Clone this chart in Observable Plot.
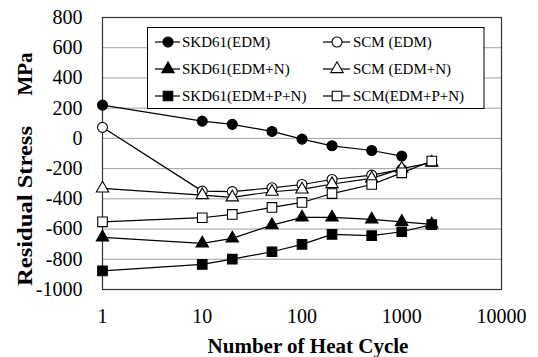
<!DOCTYPE html>
<html>
<head>
<meta charset="utf-8">
<script src="https://cdn.jsdelivr.net/npm/d3@7"></script>
<script src="https://cdn.jsdelivr.net/npm/@observablehq/plot@0.6"></script>
<style>
  html, body { margin: 0; padding: 0; background: white; overflow: hidden; }
  svg text { font-family: Liberation Serif, serif !important; }
</style>
</head>
<body>
<div id="chart"></div>
<script>
// ---- data ----
const cycles = [1, 10, 20, 50, 100, 200, 500, 1000, 2000];
const seriesNames = ["SKD61(EDM)", "SCM (EDM)", "SKD61(EDM+N)", "SCM (EDM+N)", "SKD61(EDM+P+N)", "SCM(EDM+P+N)"];
const skd61Edm   = [220, 114, 93, 46, -5, -49, -80, -117];
const scmEdm     = [73, -349, -352, -327, -305, -272, -243, -205];
const skd61EdmN  = [-655, -695, -662, -574, -523, -523, -536, -552, -569];
const scmEdmN    = [-331, -375, -390, -353, -338, -302, -265, -200, -160];
const skd61EdmPN = [-877, -834, -799, -750, -701, -635, -644, -618, -571];
const scmEdmPN   = [-552, -525, -503, -457, -424, -365, -305, -228, -150];
const xTicks = [1, 10, 100, 1000, 10000];
const yTicks = [-1000, -800, -600, -400, -200, 0, 200, 400, 600, 800];
const xTitle = "Number of Heat Cycle";
const yTitleMain = "Residual Stress";
const yTitleUnit = "MPa";

// ---- styles per series ----
const symbols = ["circle", "circle", "triangle", "triangle", "square", "square"];
const fills = ["black", "white", "black", "white", "black", "white"];
const radii = {circle: 5, triangle: 4.6, square: 5.4};
const allValues = [skd61Edm, scmEdm, skd61EdmN, scmEdmN, skd61EdmPN, scmEdmPN];

const rows = [];
allValues.forEach((vals, si) => {
  vals.forEach((v, i) => rows.push({series: seriesNames[si], si, x: cycles[i], y: v}));
});

const font = "Liberation Serif, serif";

const dotMarks = seriesNames.map((name, si) =>
  Plot.dot(rows.filter(d => d.si === si), {
    x: "x", y: "y", symbol: () => symbols[si], r: radii[symbols[si]],
    fill: fills[si], stroke: "black", strokeWidth: 1.1
  })
);

const svg = Plot.plot({
  width: 538,
  height: 357,
  marginLeft: 102,
  marginRight: 37,
  marginTop: 17,
  marginBottom: 68,
  style: {fontFamily: font, fontSize: "20px", color: "black", background: "white"},
  x: {type: "log", domain: [1, 10000]},
  y: {domain: [-1000, 800]},
  symbol: {type: "identity"},
  marks: [
    Plot.gridY(yTicks, {stroke: "#a0a0a0", strokeOpacity: 1, strokeWidth: 1}),
    Plot.frame({stroke: "#333", strokeWidth: 1.2}),
    Plot.axisY({ticks: yTicks, tickFormat: d => String(d), tickSize: 0, tickPadding: 20, label: null, fontSize: 20}),
    Plot.axisX({ticks: xTicks, tickFormat: d => String(d), tickSize: 0, tickPadding: 19, label: null, fontSize: 20}),
    Plot.line(rows, {x: "x", y: "y", z: "series", stroke: "black", strokeWidth: 1.2}),
    ...dotMarks
  ]
});

const s = d3.select(svg);

// axis titles
s.append("text")
  .attr("x", 308).attr("y", 353)
  .attr("text-anchor", "middle")
  .attr("font-family", font)
  .style("font-weight", "bold").style("font-size", "21px")
  .attr("fill", "black")
  .text(xTitle);

s.append("text")
  .attr("transform", "translate(32,206) rotate(-90)")
  .attr("text-anchor", "middle")
  .attr("font-family", font)
  .style("font-weight", "bold").style("font-size", "22px")
  .attr("fill", "black")
  .attr("textLength", 160).attr("lengthAdjust", "spacingAndGlyphs")
  .text(yTitleMain);

s.append("text")
  .attr("transform", "translate(32,74) rotate(-90)")
  .attr("text-anchor", "middle")
  .attr("font-family", font)
  .style("font-weight", "bold").style("font-size", "21px")
  .attr("fill", "black")
  .text(yTitleUnit);

// legend box
const lg = s.append("g");
lg.append("rect")
  .attr("x", 147.5).attr("y", 27.5).attr("width", 336.5).attr("height", 81)
  .attr("fill", "white").attr("stroke", "black").attr("stroke-width", 1);

const symType = {circle: d3.symbolCircle, triangle: d3.symbolTriangle, square: d3.symbolSquare};
const colX = [{l0: 155, l1: 180, m: 168, t: 182}, {l0: 323, l1: 350, m: 337, t: 353}];
const rowY = [42, 69, 96];
seriesNames.forEach((name, si) => {
  const c = colX[si % 2];
  const y = rowY[Math.floor(si / 2)];
  lg.append("line").attr("x1", c.l0).attr("x2", c.l1).attr("y1", y).attr("y2", y)
    .attr("stroke", "black").attr("stroke-width", 1.2);
  const r = radii[symbols[si]];
  lg.append("path")
    .attr("transform", `translate(${c.m},${y})`)
    .attr("d", d3.symbol().type(symType[symbols[si]]).size(Math.PI * r * r)())
    .attr("fill", fills[si]).attr("stroke", "black").attr("stroke-width", 1.1);
  lg.append("text")
    .attr("x", c.t).attr("y", y).attr("dy", "0.35em")
    .attr("text-anchor", "start")
    .attr("font-family", font)
    .style("font-size", "15px")
    .attr("fill", "black")
    .text(name);
});

document.getElementById("chart").appendChild(svg);
</script>
</body>
</html>
